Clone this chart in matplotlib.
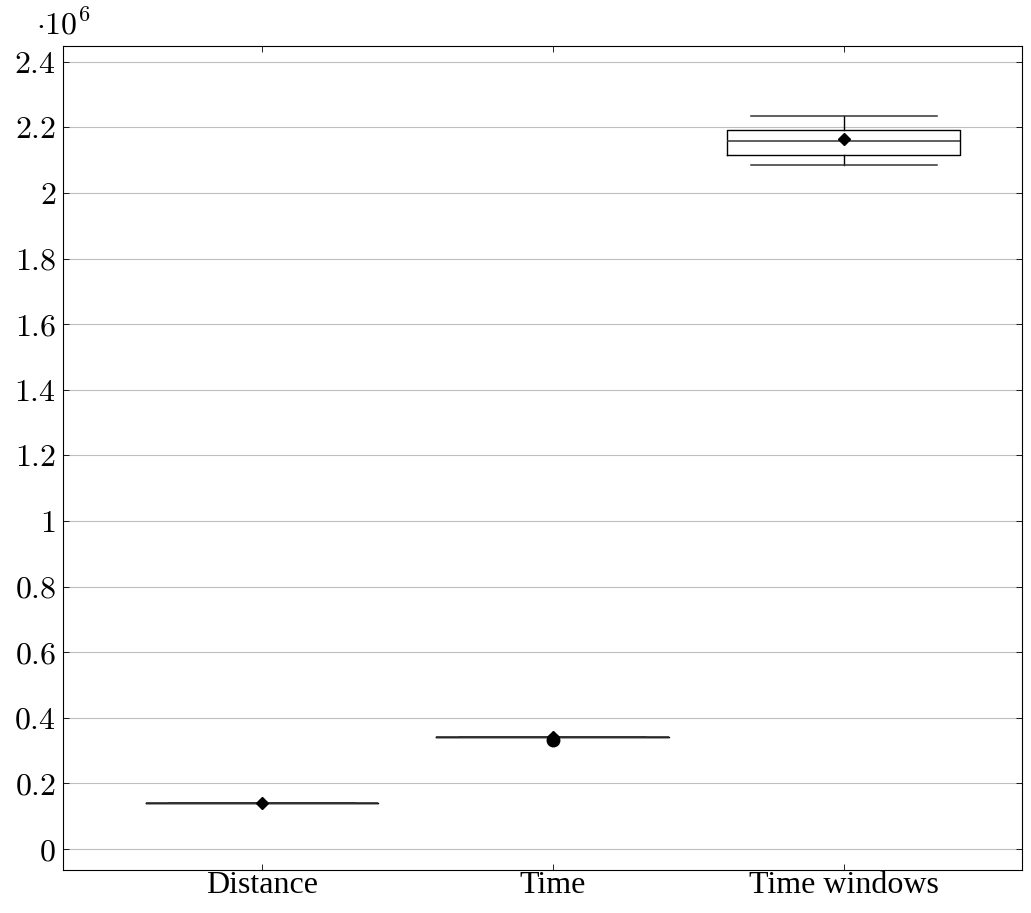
import matplotlib
matplotlib.use('Agg')
import matplotlib.pyplot as plt

# Values (units of 1e6)
labels = ['Distance', 'Time', 'Time windows']
whisker_low = [0.140, 0.343, 2.086]
q1 = [0.140, 0.343, 2.117]
medians = [0.140, 0.343, 2.159]
q3 = [0.140, 0.343, 2.193]
whisker_high = [0.140, 0.343, 2.235]
means = [0.140, 0.343, 2.165]
outliers = [[], [0.333], []]
ytick_labels = ['0', '0.2', '0.4', '0.6', '0.8', '1', '1.2', '1.4', '1.6',
                '1.8', '2', '2.2', '2.4']

plt.rcParams['font.family'] = ['Liberation Serif', 'DejaVu Serif']
plt.rcParams['mathtext.fontset'] = 'cm'

stats = []
for i, name in enumerate(labels):
    stats.append({
        'label': name,
        'whislo': whisker_low[i] * 1e6,
        'q1': q1[i] * 1e6,
        'med': medians[i] * 1e6,
        'q3': q3[i] * 1e6,
        'whishi': whisker_high[i] * 1e6,
        'mean': means[i] * 1e6,
        'fliers': [v * 1e6 for v in outliers[i]],
    })

fig, ax = plt.subplots(figsize=(10.31, 9.13), dpi=100)
fig.subplots_adjust(left=0.061, right=0.991, top=0.95, bottom=0.047)

line = dict(color='black', linewidth=1.0)
ax.bxp(stats, positions=[1, 2, 3], widths=0.8, showmeans=True,
       boxprops=line, medianprops=dict(color='#333333', linewidth=1.1),
       whiskerprops=line, capprops=dict(color='#333333', linewidth=1.1),
       capwidths=0.64,
       meanprops=dict(marker='D', markerfacecolor='black', markeredgecolor='black',
                      markersize=6),
       flierprops=dict(marker='o', markerfacecolor='black', markeredgecolor='black',
                       markersize=9))

ax.set_xlim(0.316, 3.612)
ax.set_ylim(-0.064e6, 2.449e6)
ax.set_yticks([i * 0.2e6 for i in range(13)])
ax.set_yticklabels(['$%s$' % t for t in ytick_labels])
ax.set_xticks([1, 2, 3])
ax.set_xticklabels(labels)
ax.yaxis.grid(True, color='#bfbfbf', linewidth=0.8)
ax.set_axisbelow(True)
ax.tick_params(direction='in', top=True, right=True, length=4, width=0.6)
ax.tick_params(axis='y', labelsize=23, pad=5)
ax.tick_params(axis='x', labelsize=23, pad=1)
for s in ax.spines.values():
    s.set_linewidth(0.8)
ax.text(0.0, 1.006, r'$\cdot10^{6}$', transform=ax.transAxes, fontsize=23,
        ha='center', va='bottom')

fig.savefig('out.png', dpi=100)
